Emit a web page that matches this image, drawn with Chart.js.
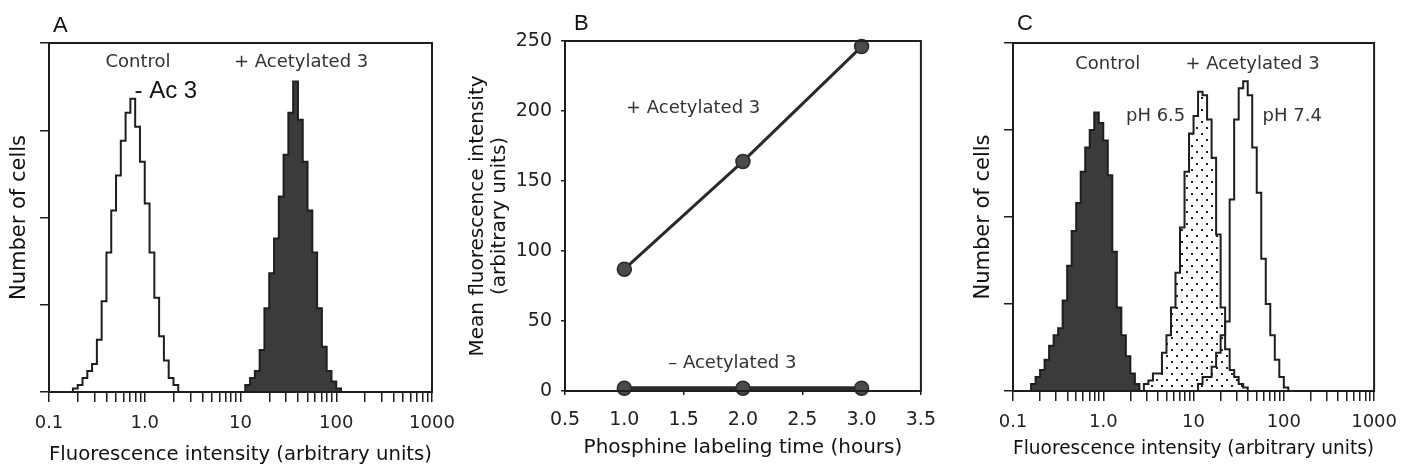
<!DOCTYPE html>
<html lang="en">
<head>
<meta charset="UTF-8">
<title>Phosphine labeling of cell-surface azides</title>
<script src="https://cdn.jsdelivr.net/npm/chart.js"></script>
<style>
  body { margin: 0; background: #fff; }
  #wrap { position: relative; width: 1408px; height: 471px; overflow: hidden; }
  #wrap canvas { position: absolute; top: 0; }
  .panel { position: absolute; font-family: "Liberation Sans", Arial, sans-serif; font-size: 22px; line-height: 22px; color: #111; }
</style>
</head>
<body>
<div id="wrap">
  <canvas id="chartA" width="470" height="471" style="left:0px"></canvas>
  <canvas id="chartB" width="495" height="471" style="left:455px"></canvas>
  <canvas id="chartC" width="458" height="471" style="left:950px"></canvas>
  <div class="panel" style="left:53px;top:14px">A</div>
  <div class="panel" style="left:574px;top:12px">B</div>
  <div class="panel" style="left:1017px;top:12px">C</div>
</div>

<script>
// histogram channels: 20 per decade on a 0.1 - 1000 log axis
const channelsPerDecade = 20;
const axisMin = 0.1;
const axisMax = 1000;
const logTickLabels = { 0.1: '0.1', 1: '1.0', 10: '10', 100: '100', 1000: '1000' };

// Panel A - number of cells per channel (first value sits at channel *Start)
const aControlStart = 5;
const aControl = [1, 2, 4, 6, 8, 15, 26, 40, 52, 62, 72, 80, 84, 76, 66, 54, 40, 27, 16, 9, 4, 2];
const aAcetylStart = 41;
const aAcetyl = [2, 4, 6, 12, 24, 34, 44, 56, 68, 80, 89, 78, 66, 52, 40, 24, 13, 6, 3, 1];

// Panel B - mean fluorescence vs labeling time
const hours = [1.0, 2.0, 3.0];
const withAcetyl = [87, 164, 246];
const withoutAcetyl = [2, 2, 2];

// Panel C
const cControlStart = 4;
const cControl = [2, 4, 6, 9, 13, 16, 18, 26, 36, 46, 54, 63, 70, 75, 80, 77, 72, 62, 40, 24, 16, 10, 5, 2];
const cPh65Start = 29;
const cPh65 = [2, 3, 5, 5, 11, 16, 24, 34, 47, 63, 74, 79, 86, 85, 78, 67, 45, 24, 12, 6, 4, 2, 1];
const cPh74Start = 41;
const cPh74 = [2, 4, 4, 7, 11, 16, 20, 55, 78, 87, 89, 85, 70, 57, 38, 25, 16, 9, 4, 1];

// text labels placed in data units
const labelsA = [
  { text: 'Control', x: 0.85, y: 94.5 },
  { text: '+ Acetylated 3', x: 43, y: 94.5 },
  { text: '- Ac 3', x: 1.66, y: 86, font: '24px "Liberation Sans"', color: '#111' }
];
const labelsB = [
  { text: '+ Acetylated 3', x: 1.58, y: 202 },
  { text: '\u2013 Acetylated 3', x: 1.91, y: 20 }
];
const labelsC = [
  { text: 'Control', x: 1.12, y: 94 },
  { text: '+ Acetylated 3', x: 45, y: 94 },
  { text: 'pH 6.5', x: 3.8, y: 79 },
  { text: 'pH 7.4', x: 124, y: 79 }
];

const ink = '#1e1e1e';
const tickFont = { family: 'DejaVu Sans', size: 18 };
const xTitleFont = { family: 'DejaVu Sans', size: 20 };
const yTitleFont = { family: 'DejaVu Sans', size: 21 };

function channelEdge(ch) {
  return axisMin * Math.pow(10, ch / channelsPerDecade);
}

// step outline of a histogram, closed down to zero on both sides
function histPoints(start, counts) {
  const pts = [{ x: channelEdge(start), y: 0 }];
  counts.forEach((c, i) => pts.push({ x: channelEdge(start + i + 1), y: c }));
  pts.push({ x: channelEdge(start + counts.length), y: 0 });
  return pts;
}

function dotPattern() {
  const c = document.createElement('canvas');
  c.width = 10; c.height = 12;
  const g = c.getContext('2d');
  g.fillStyle = '#fff';
  g.fillRect(0, 0, 10, 12);
  g.fillStyle = '#222';
  g.fillRect(1, 1, 2, 2);
  g.fillRect(6, 7, 2, 2);
  return g.createPattern(c, 'repeat');
}

const framePlugin = {
  id: 'frame',
  afterDatasetsDraw(chart) {
    const { ctx, chartArea: a } = chart;
    ctx.save();
    ctx.strokeStyle = ink;
    ctx.lineWidth = 2;
    ctx.strokeRect(a.left, a.top, a.right - a.left, a.bottom - a.top);
    ctx.restore();
  }
};

const textPlugin = {
  id: 'texts',
  afterDraw(chart, args, opts) {
    const { ctx, scales } = chart;
    (opts.items || []).forEach(it => {
      ctx.save();
      ctx.font = it.font || '18px "DejaVu Sans"';
      ctx.fillStyle = it.color || '#333';
      ctx.textAlign = 'center';
      ctx.textBaseline = 'middle';
      ctx.fillText(it.text, scales.x.getPixelForValue(it.x), scales.y.getPixelForValue(it.y));
      ctx.restore();
    });
  }
};

Chart.defaults.font.family = 'DejaVu Sans';
Chart.defaults.color = '#222';

function histogramChart(id, datasets, texts, box) {
  const logTicks = [];
  for (let d = axisMin; d < axisMax; d *= 10) {
    for (let m = 1; m < 10; m++) logTicks.push(+(d * m).toPrecision(3));
  }
  logTicks.push(axisMax);

  return new Chart(document.getElementById(id), {
    type: 'line',
    data: { datasets },
    plugins: [framePlugin, textPlugin],
    options: {
      responsive: false,
      animation: false,
      devicePixelRatio: 1,
      events: [],
      layout: { padding: { left: 0, top: box.top, right: box.right, bottom: 0 } },
      plugins: { legend: { display: false }, tooltip: { enabled: false }, texts: { items: texts } },
      elements: { point: { radius: 0 } },
      scales: {
        x: {
          type: 'logarithmic',
          min: axisMin,
          max: axisMax,
          afterBuildTicks: s => { s.ticks = logTicks.map(v => ({ value: v })); },
          afterFit: s => { s.height = box.xHeight; },
          ticks: {
            autoSkip: false, maxRotation: 0, minRotation: 0, padding: 11,
            font: tickFont, color: '#222',
            callback: v => logTickLabels[v] || ''
          },
          grid: { drawOnChartArea: false, tickLength: 10, color: ink, lineWidth: 1.5 },
          border: { color: ink, width: 2 },
          title: { display: true, text: 'Fluorescence intensity (arbitrary units)', font: xTitleFont, color: '#111', padding: { top: 0, bottom: box.xTitlePad } }
        },
        y: {
          min: 0,
          max: 100,
          afterFit: s => { s.width = box.left; },
          ticks: { stepSize: 25, callback: () => '' },
          grid: { drawOnChartArea: false, tickLength: 9, color: ink, lineWidth: 1.5 },
          border: { color: ink, width: 2 },
          title: { display: true, text: 'Number of cells', font: yTitleFont, color: '#111', padding: { top: box.yTitlePad, bottom: 0 } }
        }
      }
    }
  });
}

histogramChart('chartA', [
  {
    data: histPoints(aControlStart, aControl),
    stepped: 'after', fill: false, borderColor: ink, borderWidth: 2
  },
  {
    data: histPoints(aAcetylStart, aAcetyl),
    stepped: 'after', fill: 'origin', backgroundColor: '#3b3b3b', borderColor: ink, borderWidth: 2
  }
], labelsA, { left: 49, top: 43, right: 38, xHeight: 79, xTitlePad: 4, yTitlePad: 7 });

histogramChart('chartC', [
  {
    data: histPoints(cPh74Start, cPh74),
    stepped: 'after', fill: false, borderColor: ink, borderWidth: 2
  },
  {
    data: histPoints(cPh65Start, cPh65),
    stepped: 'after', fill: 'origin', backgroundColor: dotPattern(), borderColor: ink, borderWidth: 2
  },
  {
    data: histPoints(cControlStart, cControl),
    stepped: 'after', fill: 'origin', backgroundColor: '#3b3b3b', borderColor: ink, borderWidth: 2
  }
], labelsC, { left: 63, top: 43, right: 33, xHeight: 80, xTitlePad: 10, yTitlePad: 21 });

// Panel B
new Chart(document.getElementById('chartB'), {
  type: 'line',
  data: {
    datasets: [
      {
        data: hours.map((h, i) => ({ x: h, y: withAcetyl[i] })),
        borderColor: '#2a2a2a', borderWidth: 3, clip: false,
        pointRadius: 7, pointBackgroundColor: '#4a4a4a', pointBorderColor: '#2a2a2a', pointBorderWidth: 1.5
      },
      {
        data: hours.map((h, i) => ({ x: h, y: withoutAcetyl[i] })),
        borderColor: '#2a2a2a', borderWidth: 4, clip: false,
        pointRadius: 7, pointBackgroundColor: '#4a4a4a', pointBorderColor: '#2a2a2a', pointBorderWidth: 1.5
      }
    ]
  },
  plugins: [framePlugin, textPlugin],
  options: {
    responsive: false,
    animation: false,
    devicePixelRatio: 1,
    events: [],
    layout: { padding: { left: 0, top: 41, right: 10, bottom: 0 } },
    plugins: { legend: { display: false }, tooltip: { enabled: false }, texts: { items: labelsB } },
    scales: {
      x: {
        type: 'linear',
        min: 0.5,
        max: 3.5,
        afterFit: s => { s.height = 80; },
        ticks: { stepSize: 0.5, padding: 14, font: { family: 'DejaVu Sans', size: 19 }, color: '#222', callback: v => v.toFixed(1) },
        grid: { drawOnChartArea: false, tickLength: 4, color: ink, lineWidth: 1.5 },
        border: { color: ink, width: 2 },
        title: { display: true, text: 'Phosphine labeling time (hours)', font: xTitleFont, color: '#111', padding: { top: 0, bottom: 11 } }
      },
      y: {
        min: 0,
        max: 250,
        afterFit: s => { s.width = 110; },
        ticks: { stepSize: 50, padding: 9, font: { family: 'DejaVu Sans', size: 19 }, color: '#222' },
        grid: { drawOnChartArea: false, tickLength: 4, color: ink, lineWidth: 1.5 },
        border: { color: ink, width: 2 },
        title: {
          display: true,
          text: ['Mean fluorescence intensity', '(arbitrary units)'],
          font: { family: 'DejaVu Sans', size: 20, lineHeight: 1.1 },
          color: '#111',
          padding: { top: 12, bottom: 0 }
        }
      }
    }
  }
});
</script>
</body>
</html>
